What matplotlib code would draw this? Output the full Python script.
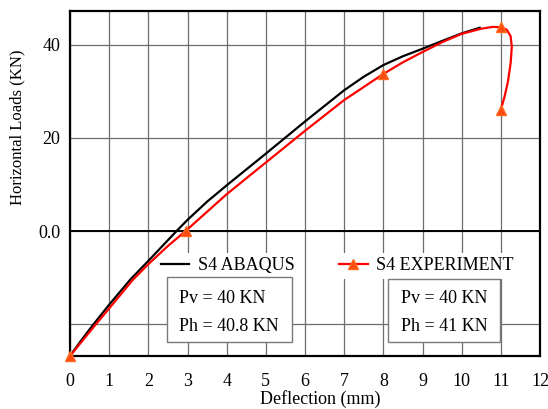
import matplotlib
matplotlib.use("Agg")
import matplotlib.pyplot as plt
from matplotlib.patches import Rectangle

# ---- data ----
abaqus_x = [0, 0.3, 0.6, 1.0, 1.53, 2.0, 2.72, 3.0, 3.5, 4.0, 5.0, 6.0, 7.0, 7.5, 8.0, 8.5, 9.0, 9.57, 10.0, 10.46]
abaqus_y = [-26.8, -23.3, -20.0, -15.8, -10.5, -6.4, 0.0, 2.4, 6.3, 9.8, 16.6, 23.5, 30.2, 33.1, 35.6, 37.5, 39.1, 41.0, 42.4, 43.6]

exp_x = [0, 0.33, 0.66, 1.0, 1.6, 2.0, 2.5, 2.95, 4.0, 5.0, 6.0, 7.0, 8.0, 8.5, 9.0, 9.5, 10.0, 10.5, 10.8, 11.0, 11.15, 11.25, 11.28, 11.25, 11.18, 11.1, 11.0]
exp_y = [-26.8, -23.4, -20.0, -16.6, -10.5, -7.1, -3.2, 0.0, 7.9, 14.7, 21.5, 28.1, 33.7, 36.2, 38.4, 40.5, 42.3, 43.4, 43.8, 43.7, 43.2, 41.8, 39.5, 36.0, 32.0, 29.0, 26.0]
exp_marker_idx = [0, 7, 12, 19, 26]

x_ticks = list(range(0, 13))
y_ticks = [-20, 0, 20, 40]
y_tick_labels = ["", "0.0", "20", "40"]

box_left = ["Pv = 40 KN", "Ph = 40.8 KN"]
box_right = ["Pv = 40 KN", "Ph = 41 KN"]

plt.rcParams['font.family'] = ['Liberation Serif', 'DejaVu Serif']
FS = 13

fig = plt.figure(figsize=(5.48, 4.09), dpi=100)
ax = fig.add_axes([70/548, 1 - 356/409, 470/548, 345/409])

ax.set_xlim(0, 12)
ax.set_ylim(-26.8, 47.2)
ax.set_xticks(x_ticks)
ax.set_yticks(y_ticks)
ax.set_yticklabels(y_tick_labels)
ax.tick_params(length=0, labelsize=FS)
ax.tick_params(axis='x', pad=12)
ax.tick_params(axis='y', pad=7)
ax.grid(True, color='#6e6e6e', linewidth=0.9)
ax.set_axisbelow(True)
ax.axhline(0, color='black', linewidth=1.4, zorder=1.5)
for s in ax.spines.values():
    s.set_linewidth(1.6)
    s.set_color('black')

l1, = ax.plot(abaqus_x, abaqus_y, color='black', linewidth=1.6, label='S4 ABAQUS', zorder=4)
l2, = ax.plot(exp_x, exp_y, color='red', linewidth=1.6, marker='^', markevery=exp_marker_idx,
              markersize=7, markerfacecolor='#ff4a10', markeredgecolor='#ff6a20', label='S4 EXPERIMENT',
              zorder=5, clip_on=False)

leg_kw = dict(loc='center left', ncol=1, frameon=True, facecolor='white', edgecolor='none',
              framealpha=1, fontsize=FS, handlelength=1.6, handletextpad=0.45,
              borderpad=0.25, borderaxespad=0, fancybox=False)
leg1 = ax.legend(handles=[l1], bbox_to_anchor=(0.183, 0.262), **leg_kw)
leg1.set_zorder(3)
ax.add_artist(leg1)
leg2 = ax.legend(handles=[l2], bbox_to_anchor=(0.562, 0.262), **leg_kw)
leg2.set_zorder(3)

# annotation boxes
for (x0, x1, y0, y1) in [(0.2057, 0.4717, 0.0420, 0.2281), (0.6766, 0.9149, 0.0414, 0.2232)]:
    ax.add_patch(Rectangle((x0, y0), x1 - x0, y1 - y0, transform=ax.transAxes,
                           facecolor='white', edgecolor='#7a7a7a', linewidth=1.0, zorder=6))
for tx, lines in [(0.2319, box_left), (0.7036, box_right)]:
    ax.text(tx, 0.1681, lines[0], transform=ax.transAxes, fontsize=FS, va='center', ha='left', zorder=7)
    ax.text(tx, 0.0841, lines[1], transform=ax.transAxes, fontsize=FS, va='center', ha='left', zorder=7)

ax.set_xlabel('Deflection (mm)', fontsize=FS)
ax.set_ylabel('Horizontal Loads (KN)', fontsize=12)
ax.xaxis.set_label_coords(0.532, -0.099)
ax.yaxis.set_label_coords(-0.094, 0.664)

fig.savefig('out.png', dpi=100)
